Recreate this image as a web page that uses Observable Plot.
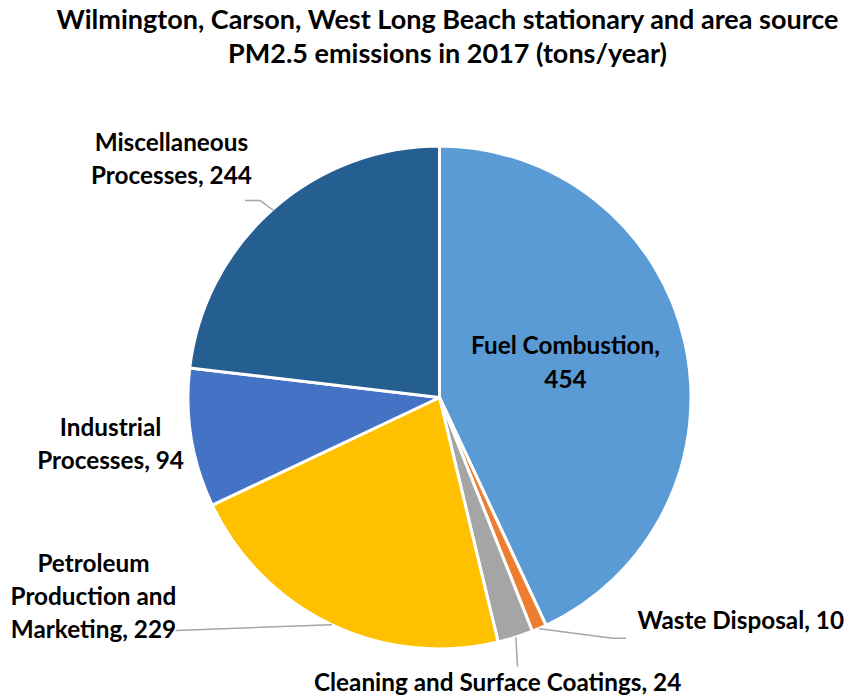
<!DOCTYPE html>
<html>
<head>
<meta charset="utf-8">
<script src="https://cdn.jsdelivr.net/npm/d3@7"></script>
<script src="https://cdn.jsdelivr.net/npm/@observablehq/plot@0.6"></script>
<style>
  html, body { margin: 0; padding: 0; background: #fff; }
  body { width: 849px; font-family: Lato, "Open Sans", sans-serif; }
  #title { box-sizing: border-box; width: 849px; height: 80px; padding: 2px 0 0 46px;
           text-align: center; font-weight: 700; font-size: 27px; line-height: 34px; color: #000; }
  #chart svg { display: block; }
</style>
</head>
<body>
<div id="title">Wilmington, Carson, West Long Beach stationary and area source<br>PM2.5 emissions in 2017 (tons/year)</div>
<div id="chart"></div>
<script>
// ---- data ----
const categories = ["Fuel Combustion", "Waste Disposal", "Cleaning and Surface Coatings",
                    "Petroleum Production and Marketing", "Industrial Processes", "Miscellaneous Processes"];
const values = [454, 10, 24, 229, 94, 244];
const labelTexts = ["Fuel Combustion,\n454", "Waste Disposal, 10", "Cleaning and Surface Coatings, 24",
                    "Petroleum\nProduction and\nMarketing, 229", "Industrial\nProcesses, 94", "Miscellaneous\nProcesses, 244"];

// ---- styles / layout (in pie-radius units, relative to centre) ----
const colors = ["#5B9BD5", "#ED7D31", "#A5A5A5", "#FFC000", "#4472C4", "#255E91"];
const labelPos = [[0.499, 0.150], [0.785, -0.876], [0.229, -1.122], [-1.378, -0.781], [-1.310, -0.175], [-1.068, 0.958]];
const labelAnchor = ["middle", "start", "middle", "middle", "middle", "middle"];
const leaderBends = [null, [[0.686, -0.955], [0.738, -0.955]], [[0.308, -1.066]], [[-1.048, -0.924]], null,
                     [[-0.714, 0.785], [-0.773, 0.785]]];

const W = 849, H = 616;
const R = 251.5, CX = 439.5, CY = 317.5;

const arcs = d3.pie().sort(null).value(d => d)(values);
const rows = categories.map((c, i) => ({
  category: c, value: values[i], color: colors[i],
  start: arcs[i].startAngle, end: arcs[i].endAngle,
  mid: (arcs[i].startAngle + arcs[i].endAngle) / 2,
  label: labelTexts[i], lx: labelPos[i][0], ly: labelPos[i][1], anchor: labelAnchor[i]
}));

const leaders = [];
rows.forEach((d, i) => {
  if (!leaderBends[i]) return;
  leaders.push({x: Math.sin(d.mid), y: Math.cos(d.mid), k: i});
  leaderBends[i].forEach(p => leaders.push({x: p[0], y: p[1], k: i}));
});

function pieMark(index, scales) {
  const sx = scales.x, sy = scales.y;
  const cx = sx(0), cy = sy(0), r = sx(1) - sx(0);
  const g = d3.create("svg:g").attr("transform", `translate(${cx},${cy})`);
  const arc = d3.arc().innerRadius(0).outerRadius(r);
  g.selectAll("path").data(rows).join("path")
    .attr("d", d => arc({startAngle: d.start, endAngle: d.end}))
    .attr("fill", d => d.color)
    .attr("stroke", "#fff")
    .attr("stroke-width", 3)
    .attr("stroke-linejoin", "round");
  return g.node();
}

const textOpts = {x: "lx", y: "ly", text: "label", fontSize: 24.3, fontWeight: 700, fill: "#000",
                  lineAnchor: "middle", lineHeight: 1.37};

const chart = Plot.plot({
  width: W, height: H,
  marginTop: 0, marginRight: 0, marginBottom: 0, marginLeft: 0,
  style: {fontFamily: "Lato, 'Open Sans', sans-serif", background: "#fff"},
  x: {domain: [-CX / R, (W - CX) / R], range: [0, W], axis: null},
  y: {domain: [-(H - CY) / R, CY / R], range: [H, 0], axis: null},
  marks: [
    pieMark,
    Plot.line(leaders, {x: "x", y: "y", z: "k", stroke: "#A6A6A6", strokeWidth: 1.5}),
    Plot.text(rows.filter(d => d.anchor === "middle"), {...textOpts, textAnchor: "middle"}),
    Plot.text(rows.filter(d => d.anchor === "start"), {...textOpts, textAnchor: "start"})
  ]
});
document.getElementById("chart").appendChild(chart);
</script>
</body>
</html>
